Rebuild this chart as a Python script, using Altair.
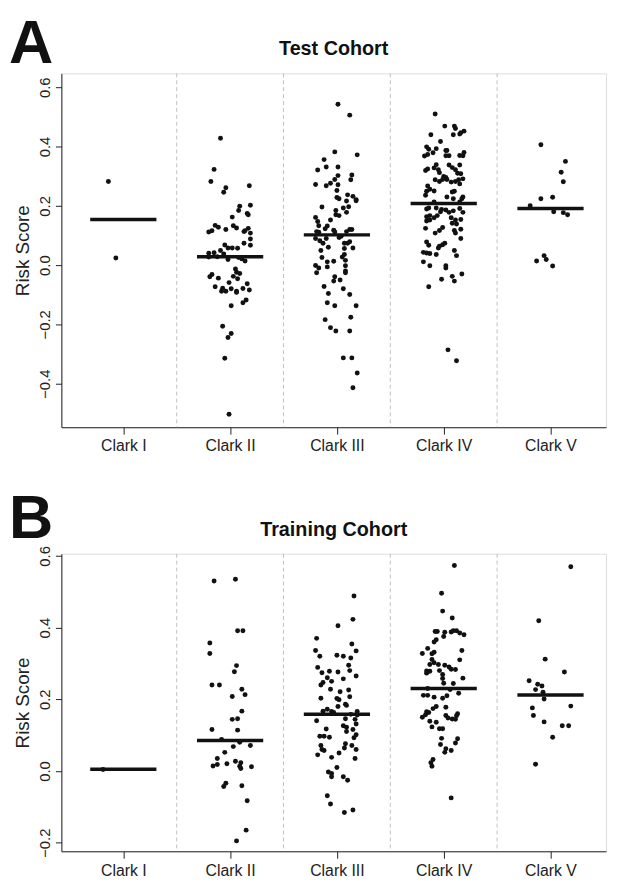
import altair as alt
import pandas as pd

categories = ["Clark I", "Clark II", "Clark III", "Clark IV", "Clark V"]

# ---------------- Test cohort (panel A) ----------------
A_I_score = [0.282, 0.024]
A_I_jit = [-0.14, -0.07]

A_II_score = [0.428, 0.323, 0.282, 0.261, 0.246, 0.268, 0.202, 0.199, 0.184, 0.174, 0.170, 0.162,
              0.134, 0.128, 0.133, 0.125, 0.112, 0.116, 0.120, 0.113, 0.116, 0.124, 0.108, 0.088,
              0.067, 0.074, 0.068, 0.058, 0.058, 0.057, 0.049, 0.040, 0.042, 0.038, 0.027, 0.028,
              0.019, 0.026, 0.021, 0.014, -0.013, -0.024, -0.028, -0.038, -0.046, -0.032, -0.039,
              -0.044, -0.059, -0.073, -0.078, -0.088, -0.088, -0.080, -0.088, -0.092, -0.079, -0.063,
              -0.084, -0.118, -0.127, -0.137, -0.206, -0.231, -0.244, -0.314, -0.503]
A_II_jit = [-0.09, -0.15, -0.18, -0.04, -0.06, 0.18, 0.19, 0.09, 0.08, 0.16, 0.17, 0.02,
            -0.14, -0.11, 0.03, 0.06, -0.20, -0.17, -0.04, 0.13, 0.14, 0.17, 0.19, 0.19,
            0.19, 0.13, -0.05, -0.02, 0.02, 0.07, -0.09, -0.20, -0.15, -0.06, -0.20, -0.12,
            -0.02, 0.08, 0.11, 0.14, 0.05, 0.06, 0.09, 0.03, 0.07, -0.17, -0.19,
            -0.11, -0.01, -0.14, -0.07, -0.08, -0.04, 0.01, 0.06, 0.06, 0.12, 0.16,
            0.18, 0.15, 0.12, 0.01, -0.07, 0.01, -0.02, -0.05, -0.01]

A_III_score = [0.543, 0.506, 0.382, 0.372, 0.356, 0.321, 0.331, 0.331, 0.304, 0.288, 0.302, 0.289,
               0.272, 0.268, 0.276, 0.271, 0.252, 0.228, 0.224, 0.237, 0.232, 0.221, 0.217, 0.216,
               0.197, 0.193, 0.196, 0.184, 0.178, 0.170, 0.167, 0.161, 0.147, 0.152, 0.133, 0.132,
               0.123, 0.113, 0.111, 0.118, 0.112, 0.120, 0.120, 0.113, 0.090, 0.082, 0.074, 0.090,
               0.093, 0.097, 0.074, 0.074, 0.079, 0.060, 0.056, 0.058, 0.049, 0.026, 0.036, 0.027,
               0.016, 0.011, 0.013, -0.001, -0.010, -0.006, -0.026, -0.002, -0.020, -0.026, -0.039,
               -0.054, -0.050, -0.072, -0.080, -0.096, -0.099, -0.127, -0.137, -0.137, -0.176,
               -0.184, -0.211, -0.222, -0.222, -0.313, -0.313, -0.364, -0.414]
A_III_jit = [0.01, 0.12, -0.02, 0.19, -0.12, -0.18, -0.10, 0.01, 0.14, 0.13, 0.01, -0.02,
             -0.20, -0.10, -0.06, 0.01, 0.00, 0.00, 0.02, 0.10, 0.15, 0.18, 0.18, 0.09,
             0.11, 0.06, -0.14, -0.01, 0.09, -0.01, 0.02, -0.20, -0.18, -0.06, -0.17, -0.09,
             -0.11, -0.19, -0.17, -0.03, -0.02, 0.12, 0.14, 0.09, -0.20, -0.16, -0.13, -0.10,
             0.02, 0.04, 0.07, 0.10, 0.12, -0.08, 0.07, 0.15, -0.15, -0.14, 0.07, 0.05,
             0.08, -0.09, -0.03, -0.20, -0.17, -0.09, -0.19, 0.08, 0.08, 0.08, -0.02,
             -0.03, 0.03, -0.12, 0.06, -0.08, 0.12, -0.09, -0.02, 0.18, 0.13,
             -0.11, -0.06, -0.01, 0.12, 0.06, 0.14, 0.19, 0.15]

A_IV_score = [0.510, 0.469, 0.469, 0.461, 0.440, 0.440, 0.442, 0.452, 0.447, 0.417, 0.399, 0.391,
              0.393, 0.387, 0.387, 0.379, 0.380, 0.368, 0.373, 0.369, 0.369, 0.370, 0.369, 0.339,
              0.338, 0.319, 0.324, 0.328, 0.322, 0.312, 0.329, 0.322, 0.338, 0.310, 0.299, 0.296,
              0.289, 0.289, 0.288, 0.282, 0.280, 0.282, 0.288, 0.291, 0.308, 0.274, 0.267, 0.249,
              0.256, 0.250, 0.236, 0.230, 0.247, 0.249, 0.224, 0.224, 0.230, 0.213, 0.213, 0.189,
              0.193, 0.193, 0.188, 0.180, 0.186, 0.178, 0.183, 0.191, 0.178, 0.163, 0.167, 0.160,
              0.167, 0.149, 0.152, 0.124, 0.160, 0.152, 0.154, 0.141, 0.139, 0.127, 0.117, 0.108,
              0.117, 0.121, 0.108, 0.090, 0.078, 0.067, 0.074, 0.069, 0.064, 0.058, 0.043, 0.041,
              0.039, 0.036, 0.049, 0.032, 0.011, -0.002, -0.002, -0.010, -0.030, -0.038, -0.048,
              -0.054, -0.073, -0.286, -0.323]
A_IV_jit = [-0.08, 0.01, 0.10, 0.11, -0.12, 0.09, 0.15, 0.19, 0.16, -0.03, -0.16, -0.14,
            -0.07, 0.02, 0.03, -0.10, 0.19, -0.18, -0.15, 0.02, 0.05, 0.15, 0.18, -0.07,
            0.05, -0.17, -0.15, -0.09, -0.05, -0.04, 0.08, 0.11, 0.15, 0.13, 0.00, 0.02,
            0.03, -0.01, -0.08, -0.04, 0.07, 0.11, 0.14, 0.18, 0.16, 0.15, -0.15, -0.16,
            -0.13, -0.09, -0.17, 0.03, 0.08, 0.10, 0.09, 0.17, 0.18, 0.15, -0.09, -0.16,
            -0.14, -0.07, -0.02, -0.03, 0.02, 0.05, 0.09, 0.15, 0.18, -0.16, -0.13, -0.09,
            -0.06, -0.16, -0.13, -0.17, 0.07, 0.11, 0.16, 0.08, 0.12, -0.01, -0.04, -0.08,
            0.10, 0.16, 0.11, 0.16, -0.16, -0.14, 0.01, -0.01, -0.04, -0.05, -0.19, -0.16,
            -0.13, -0.07, 0.10, 0.12, -0.19, -0.13, 0.02, 0.02, 0.17, 0.08, -0.02,
            0.10, -0.14, 0.04, 0.12]

A_V_score = [0.406, 0.350, 0.313, 0.281, 0.224, 0.229, 0.200, 0.180, 0.177, 0.170, 0.032, 0.014,
             0.019, -0.003]
A_V_jit = [-0.09, 0.14, 0.10, 0.12, -0.09, 0.02, -0.19, 0.03, 0.12, 0.16, -0.06, -0.13,
           -0.04, 0.02]

A_medians = [0.154, 0.028, 0.102, 0.208, 0.191]

# ---------------- Training cohort (panel B) ----------------
B_I_score = [0.004]
B_I_jit = [-0.19]

B_II_score = [0.530, 0.535, 0.391, 0.391, 0.357, 0.328, 0.294, 0.277, 0.240, 0.240, 0.228, 0.213,
              0.208, 0.167, 0.144, 0.146, 0.116, 0.114, 0.088, 0.080, 0.071, 0.068, 0.052, 0.035,
              0.027, 0.023, 0.018, 0.020, 0.014, 0.013, 0.007, 0.012, -0.034, -0.043, -0.041,
              -0.083, -0.165, -0.195]
B_II_jit = [-0.15, 0.05, 0.07, 0.12, -0.19, -0.19, 0.06, 0.04, -0.17, -0.10, 0.11, 0.14,
            0.02, 0.11, 0.02, 0.07, -0.17, 0.07, -0.08, 0.09, 0.19, 0.03, -0.05, -0.12,
            0.05, 0.10, -0.12, -0.03, -0.16, 0.09, 0.10, 0.20, -0.04, -0.06, 0.11,
            0.16, 0.15, 0.06]

B_III_score = [0.488, 0.423, 0.405, 0.370, 0.336, 0.320, 0.323, 0.320, 0.315, 0.354, 0.335, 0.295,
               0.280, 0.289, 0.274, 0.278, 0.276, 0.265, 0.260, 0.250, 0.247, 0.240, 0.257, 0.228,
               0.221, 0.226, 0.202, 0.199, 0.203, 0.207, 0.186, 0.183, 0.180, 0.167, 0.172, 0.166,
               0.163, 0.158, 0.166, 0.156, 0.140, 0.146, 0.144, 0.131, 0.126, 0.122, 0.117, 0.110,
               0.116, 0.097, 0.097, 0.094, 0.101, 0.093, 0.071, 0.060, 0.057, 0.045, 0.038, 0.050,
               0.064, 0.076, 0.071, 0.060, 0.035, 0.010, -0.003, -0.007, -0.016, -0.016, -0.026,
               -0.069, -0.092, -0.116, -0.109]
B_III_jit = [0.16, 0.15, 0.01, -0.19, -0.20, -0.16, 0.00, 0.06, 0.13, 0.14, 0.18, 0.11,
             0.12, -0.18, -0.14, -0.07, 0.01, 0.18, -0.09, -0.05, -0.13, -0.15, 0.06, -0.06,
             0.03, 0.11, 0.00, 0.02, -0.15, 0.12, 0.08, 0.09, 0.01, -0.13, -0.09, -0.05,
             -0.03, 0.13, 0.19, 0.19, -0.19, 0.08, 0.17, 0.18, 0.06, 0.09, -0.10, 0.09,
             0.15, -0.16, -0.12, -0.07, 0.18, 0.16, -0.15, -0.14, -0.12, -0.18, -0.05, 0.02,
             0.07, 0.08, 0.14, 0.18, 0.17, 0.00, -0.08, -0.05, -0.05, 0.06, 0.10,
             -0.09, -0.06, 0.07, 0.15]

B_IV_score = [0.573, 0.496, 0.446, 0.427, 0.389, 0.389, 0.387, 0.375, 0.388, 0.391, 0.391, 0.385,
              0.380, 0.366, 0.360, 0.342, 0.328, 0.327, 0.331, 0.336, 0.310, 0.311, 0.297, 0.302,
              0.297, 0.295, 0.290, 0.284, 0.283, 0.279, 0.273, 0.278, 0.280, 0.269, 0.258, 0.259,
              0.245, 0.244, 0.230, 0.211, 0.206, 0.203, 0.210, 0.211, 0.217, 0.227, 0.180, 0.178,
              0.165, 0.163, 0.174, 0.150, 0.157, 0.155, 0.148, 0.145, 0.144, 0.160, 0.154, 0.139,
              0.136, 0.123, 0.118, 0.118, 0.091, 0.090, 0.078, 0.074, 0.057, 0.062, 0.052, 0.032,
              0.023, 0.013, -0.075]
B_IV_jit = [0.10, -0.02, -0.01, 0.08, -0.08, -0.06, 0.01, 0.00, 0.07, 0.09, 0.12, 0.15,
            0.19, -0.07, -0.09, -0.15, -0.20, -0.11, -0.09, 0.17, 0.15, -0.11, -0.13, -0.09,
            -0.05, 0.01, 0.05, 0.07, 0.11, -0.16, -0.16, -0.13, -0.04, -0.01, -0.01, 0.18,
            0.00, 0.09, -0.15, -0.15, -0.09, -0.01, 0.03, -0.19, 0.14, 0.06, -0.07, 0.02,
            -0.16, -0.14, -0.10, -0.20, -0.17, 0.02, 0.04, 0.08, 0.11, 0.13, 0.12, -0.13,
            -0.07, -0.11, -0.04, -0.01, -0.02, 0.13, 0.11, -0.03, 0.07, 0.02, 0.01, -0.10,
            -0.12, -0.11, 0.07]

B_V_score = [0.570, 0.419, 0.312, 0.276, 0.252, 0.242, 0.237, 0.227, 0.220, 0.201, 0.176, 0.181,
             0.155, 0.137, 0.126, 0.126, 0.094, 0.019]
B_V_jit = [0.19, -0.11, -0.05, 0.13, -0.20, -0.12, -0.08, -0.14, -0.07, -0.06, -0.17, 0.19,
           -0.16, -0.06, 0.11, 0.17, 0.02, -0.14]

B_medians = [0.005, 0.085, 0.158, 0.230, 0.212]

separators = [0.5, 1.5, 2.5, 3.5]

A_scores = [A_I_score, A_II_score, A_III_score, A_IV_score, A_V_score]
A_jits = [A_I_jit, A_II_jit, A_III_jit, A_IV_jit, A_V_jit]
B_scores = [B_I_score, B_II_score, B_III_score, B_IV_score, B_V_score]
B_jits = [B_I_jit, B_II_jit, B_III_jit, B_IV_jit, B_V_jit]

FONT = "Liberation Sans"
HALF = 0.31
XDOM = [-0.58, 4.52]
W = 551


def points_df(scores, jits):
    rows = []
    for i, (s, j) in enumerate(zip(scores, jits)):
        for v, d in zip(s, j):
            rows.append({"cat": categories[i], "xpos": i + d, "score": v})
    return pd.DataFrame(rows)


def median_df(meds):
    return pd.DataFrame({"cat": categories, "idx": list(range(len(categories))), "median": meds})


label_expr = "[" + ",".join("'%s'" % c for c in categories) + "][datum.value]"


def panel(scores, jits, meds, title, letter, height, ydom, yticks, title_y, letter_y):
    xscale = alt.Scale(domain=XDOM, nice=False, zero=False)
    yscale = alt.Scale(domain=ydom, nice=False, zero=False)
    xaxis = alt.Axis(values=list(range(len(categories))), labelExpr=label_expr, grid=False,
                     title=None, tickSize=7, labelPadding=4, labelFontSize=16, labelFont=FONT,
                     labelColor="#222", domainColor="#222", tickColor="#222")
    yaxis = alt.Axis(values=yticks, format=".1f", grid=False, title="Risk Score",
                     titleFontSize=19, titleFont=FONT, titleFontWeight="normal", titleColor="#222",
                     titlePadding=5, tickSize=6, labelAngle=-90, labelAlign="center",
                     labelBaseline="bottom", labelPadding=3, labelFontSize=15, labelFont=FONT,
                     labelColor="#222", domainColor="#222", tickColor="#222")

    X = lambda f: alt.X(f, type="quantitative", scale=xscale, axis=xaxis)
    Y = lambda f: alt.Y(f, type="quantitative", scale=yscale, axis=yaxis)

    sep = alt.Chart(pd.DataFrame({"pos": separators})).mark_rule(
        color="#c0c0c0", strokeDash=[4, 3], strokeWidth=1
    ).encode(x=X("pos"))

    pts = alt.Chart(points_df(scores, jits)).mark_circle(size=25, color="#111", opacity=1).encode(
        x=X("xpos"), y=Y("score")
    )

    med = alt.Chart(median_df(meds)).transform_calculate(
        x1="datum.idx - %f" % HALF, x2="datum.idx + %f" % HALF
    ).mark_rule(color="#111", strokeWidth=3.5).encode(
        x=X("x1"), x2="x2:Q", y=Y("median")
    )

    let = alt.Chart(pd.DataFrame({"t": [letter]})).mark_text(
        font=FONT, fontSize=62, fontWeight="bold", align="left", baseline="alphabetic", color="#111"
    ).encode(x=alt.value(-53), y=alt.value(letter_y), text="t:N")

    ttl = alt.Chart(pd.DataFrame({"t": [title]})).mark_text(
        font=FONT, fontSize=20, fontWeight="bold", align="center", baseline="alphabetic", color="#111"
    ).encode(x=alt.value(W / 2), y=alt.value(title_y), text="t:N")

    return alt.layer(sep, pts, med, let, ttl).properties(width=W, height=height)


A = panel(A_scores, A_jits, A_medians, "Test Cohort", "A", 358, [-0.547, 0.647],
          [-0.4, -0.2, 0.0, 0.2, 0.4, 0.6], -19, -10)
B = panel(B_scores, B_jits, B_medians, "Training Cohort", "B", 301, [-0.224, 0.606],
          [-0.2, 0.0, 0.2, 0.4, 0.6], -18, -16)

chart = alt.vconcat(A, B, spacing=33).properties(
    padding={"left": 0, "top": 0, "right": 2, "bottom": 2}
).configure_view(stroke="#222", strokeWidth=1).configure(background="white")

chart.save("out.html", embed_options={"renderer": "svg", "actions": False})
